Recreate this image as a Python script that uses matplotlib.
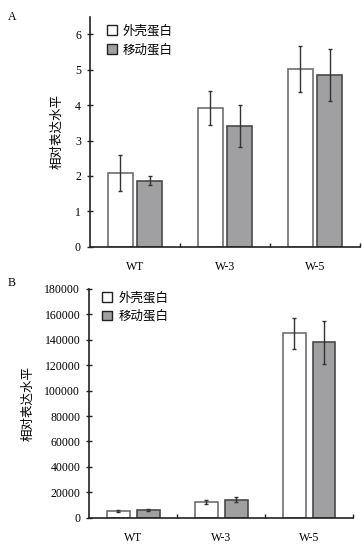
import matplotlib
matplotlib.use("Agg")
import matplotlib.pyplot as plt
import matplotlib.patches as mpatches
import numpy as np

# =============================================================================
# DATA
# =============================================================================
GROUPS = ["WT", "W-3", "W-5"]
SERIES = ["外壳蛋白", "移动蛋白"]

A_CAPSID = [2.08, 3.93, 5.01]
A_CAPSID_ERR = [0.51, 0.48, 0.65]
A_MOVE = [1.87, 3.41, 4.86]
A_MOVE_ERR = [0.12, 0.60, 0.74]
A_TICKS = [0, 1, 2, 3, 4, 5, 6]

B_CAPSID = [5000, 12500, 145000]
B_CAPSID_ERR = [800, 1800, 12500]
B_MOVE = [6000, 14300, 138000]
B_MOVE_ERR = [800, 2000, 17000]
B_TICKS = list(range(0, 180001, 20000))

YLABEL = "相对表达水平"

WHITE = "#ffffff"
GREY = "#a0a0a2"
EDGE_W = "#707070"
EDGE_G = "#4a4a4a"
ERR = "#333333"
SERIF = ["Liberation Serif", "DejaVu Serif"]
CJK = ["Noto Sans CJK SC", "DejaVu Sans"]


def draw_panel(ax, capsid, capsid_err, move, move_err, ticks, ylim, width, off, leg_anchor):
    x = np.arange(len(GROUPS))
    ax.bar(x - off, capsid, width, color=WHITE, edgecolor=EDGE_W, linewidth=1.2)
    ax.bar(x + off, move, width, color=GREY, edgecolor=EDGE_G, linewidth=1.2)
    ax.errorbar(x - off, capsid, yerr=capsid_err, fmt="none", ecolor=ERR,
                elinewidth=1, capsize=1.5, capthick=1)
    ax.errorbar(x + off, move, yerr=move_err, fmt="none", ecolor=ERR,
                elinewidth=1, capsize=1.5, capthick=1)

    ax.set_xlim(-0.5, len(GROUPS) - 0.5)
    ax.set_ylim(*ylim)
    ax.set_yticks(ticks)
    ax.set_yticklabels([str(t) for t in ticks], family=SERIF, fontsize=8.5)
    ax.set_xticks(x)
    ax.set_xticklabels(GROUPS, family=SERIF, fontsize=8.5)
    ax.tick_params(axis="x", which="major", length=0, pad=10)
    ax.set_xticks(x + 0.5, minor=True)
    ax.tick_params(axis="x", which="minor", direction="in", length=3,
                   width=1, color="#222222")
    ax.tick_params(axis="y", direction="inout", length=5, width=1,
                   color="#222222", pad=4)

    for s in ["top", "right"]:
        ax.spines[s].set_visible(False)
    for s in ["left", "bottom"]:
        ax.spines[s].set_linewidth(1.2)
        ax.spines[s].set_color("#222222")

    handles = [
        mpatches.Patch(facecolor=WHITE, edgecolor="#222222", linewidth=1, label=SERIES[0]),
        mpatches.Patch(facecolor=GREY, edgecolor="#222222", linewidth=1, label=SERIES[1]),
    ]
    leg = ax.legend(handles=handles, loc="upper left", bbox_to_anchor=leg_anchor,
                    frameon=False, handlelength=0.8, handleheight=0.8,
                    handletextpad=0.5, labelspacing=0.45,
                    prop={"family": CJK, "size": 9})
    return leg


fig = plt.figure(figsize=(3.62, 5.47), dpi=100)

axA = fig.add_axes([0.2486, 0.549, 0.7460, 0.4205])
draw_panel(axA, A_CAPSID, A_CAPSID_ERR, A_MOVE, A_MOVE_ERR, A_TICKS,
           (0, 6.5), 0.28, 0.165, (0.02, 1.015))
axA.set_ylabel(YLABEL, family=CJK, fontsize=9, labelpad=8)

axB = fig.add_axes([0.2467, 0.0536, 0.7284, 0.4181])
draw_panel(axB, B_CAPSID, B_CAPSID_ERR, B_MOVE, B_MOVE_ERR, B_TICKS,
           (0, 180000), 0.26, 0.17, (0.005, 1.04))
axB.set_ylabel(YLABEL, family=CJK, fontsize=9, labelpad=7)

fig.text(8 / 362, 1 - 17 / 547, "A", family=SERIF, fontsize=8.5, va="center")
fig.text(8 / 362, 1 - 283 / 547, "B", family=SERIF, fontsize=8.5, va="center")

fig.savefig("out.png", dpi=100)
